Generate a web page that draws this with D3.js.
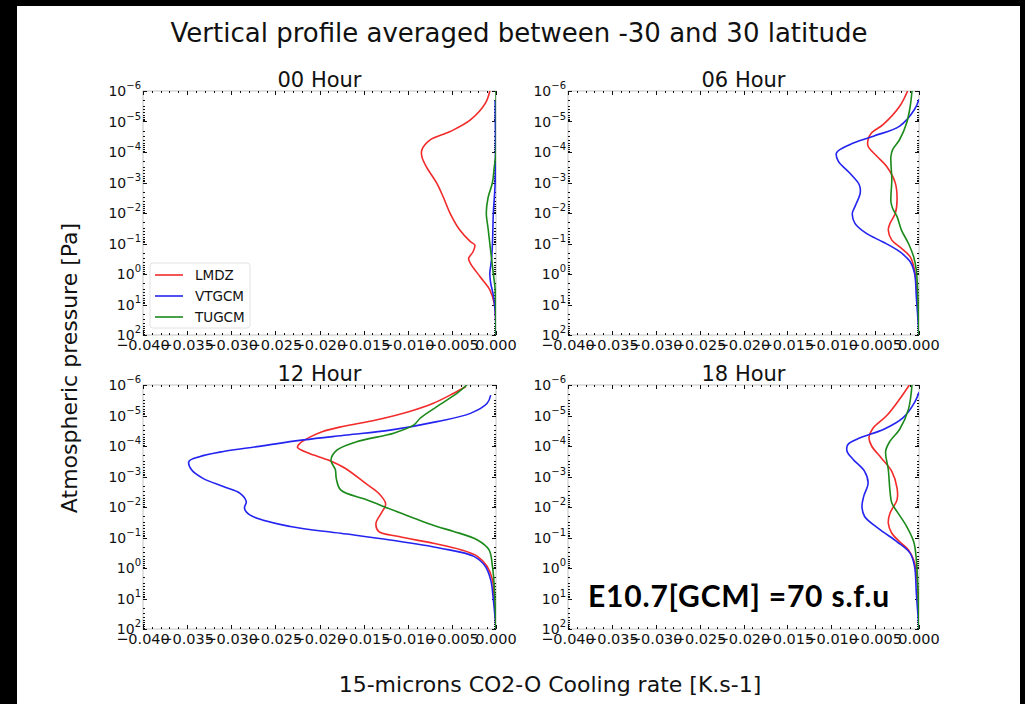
<!DOCTYPE html>
<html>
<head>
<meta charset="utf-8">
<script src="https://cdn.jsdelivr.net/npm/d3@7"></script>
<style>
  body { margin: 0; background: #000; }
  svg { display: block; }
  text { font-family: "DejaVu Sans", sans-serif; fill: #111; }
</style>
</head>
<body>
<svg id="chart" width="1025" height="704"></svg>
<script>
// ---- data ---------------------------------------------------------------
const panelTitles = ["00 Hour", "06 Hour", "12 Hour", "18 Hour"];
const models = ["LMDZ", "VTGCM", "TUGCM"];
const modelColors = ["#f22a2a", "#2424f0", "#1b8a1b"];

const xTickValues = [-0.040, -0.035, -0.030, -0.025, -0.020, -0.015, -0.010, -0.005, 0.000];
const xTickLabels = ["\u22120.040", "\u22120.035", "\u22120.030", "\u22120.025", "\u22120.020",
                     "\u22120.015", "\u22120.010", "\u22120.005", "0.000"];
const yTickExponents = [-6, -5, -4, -3, -2, -1, 0, 1, 2];
const yTickLabels = ["\u22126", "\u22125", "\u22124", "\u22123", "\u22122", "\u22121", "0", "1", "2"];

// Profiles: [log10 pressure (Pa), cooling rate (K/s)]
const h00_LMDZ = [[-6, -0.0007], [-5.6, -0.0012], [-5.05, -0.0029], [-4.67, -0.0052], [-4.39, -0.0075],
  [-4.07, -0.0084], [-3.85, -0.0084], [-3.52, -0.0079], [-2.97, -0.0067], [-2.54, -0.0060],
  [-1.99, -0.0052], [-1.44, -0.0041], [-1.06, -0.0029], [-0.95, -0.0024], [-0.73, -0.0026],
  [-0.51, -0.0031], [-0.35, -0.0029], [0.09, -0.0018], [0.52, -0.0007], [0.96, -0.0002], [2, 0]];
const h00_VTGCM = [[-5.7, -0.0001], [-3, -0.0001], [-2, -0.0003], [-1, -0.0004], [-0.5, -0.0005],
  [0, -0.0007], [0.3, -0.0006], [0.7, -0.0003], [1.2, -0.0001], [2, 0]];
const h00_TUGCM = [[-6, 0], [-4, 0], [-3.5, -0.0002], [-3, -0.0004], [-2.5, -0.0009], [-2, -0.0011],
  [-1.5, -0.0009], [-1, -0.0007], [-0.5, -0.0005], [0, -0.0003], [0.5, -0.0001], [2, 0]];

const h06_LMDZ = [[-6, -0.0013], [-5.5, -0.0022], [-4.9, -0.0041], [-4.63, -0.0054], [-4.41, -0.0058],
  [-4.19, -0.0058], [-3.86, -0.0048], [-3.53, -0.0037], [-2.98, -0.0027], [-2.43, -0.0025],
  [-1.99, -0.0027], [-1.66, -0.0033], [-1.44, -0.0035], [-1.11, -0.0031], [-0.89, -0.0022],
  [-0.56, -0.0010], [-0.12, -0.0005], [0.43, -0.0003], [1.2, -0.0001], [2, 0]];
const h06_VTGCM = [[-5.73, 0], [-5.4, -0.0005], [-4.85, -0.0022], [-4.52, -0.0052], [-4.24, -0.0079],
  [-3.97, -0.0094], [-3.7, -0.0092], [-3.31, -0.0079], [-2.92, -0.0068], [-2.65, -0.0067],
  [-2.21, -0.0073], [-1.99, -0.0076], [-1.66, -0.0073], [-1.33, -0.0060], [-1.05, -0.0041],
  [-0.73, -0.0022], [-0.4, -0.0010], [-0.01, -0.0005], [0.76, -0.0003], [2, 0]];
const h06_TUGCM = [[-6, -0.0008], [-5.5, -0.0010], [-4.96, -0.0014], [-4.41, -0.0022], [-4.08, -0.0030],
  [-3.86, -0.0032], [-3.09, -0.0031], [-2.37, -0.0032], [-2.15, -0.0030], [-1.88, -0.0025],
  [-1.44, -0.0020], [-1.0, -0.0012], [-0.56, -0.0006], [-0.12, -0.0003], [1, -0.0001], [2, 0]];

const h12_LMDZ = [[-5.95, -0.0034], [-5.73, -0.0048], [-5.4, -0.0071], [-5.13, -0.0098], [-4.85, -0.0136],
  [-4.64, -0.0174], [-4.47, -0.0197], [-4.29, -0.0211], [-4.09, -0.0222], [-3.96, -0.0225],
  [-3.76, -0.0212], [-3.54, -0.0190], [-3.27, -0.0171], [-2.78, -0.0148], [-2.45, -0.0133],
  [-2.1, -0.0125], [-1.8, -0.0130], [-1.47, -0.0136], [-1.2, -0.0133], [-1.03, -0.0110],
  [-0.81, -0.0071], [-0.6, -0.0040], [-0.38, -0.0021], [-0.05, -0.0010], [0.39, -0.0004],
  [1.04, -0.0002], [2, 0]];
const h12_VTGCM = [[-5.67, -0.0006], [-5.4, -0.0010], [-5.07, -0.0029], [-4.8, -0.0067], [-4.52, -0.0120],
  [-4.36, -0.0169], [-4.2, -0.0218], [-3.98, -0.0271], [-3.82, -0.0309], [-3.65, -0.0336],
  [-3.49, -0.0348], [-3.22, -0.0345], [-2.94, -0.0332], [-2.67, -0.0309], [-2.45, -0.0290],
  [-2.18, -0.0283], [-1.96, -0.0285], [-1.74, -0.0279], [-1.36, -0.0233], [-1.14, -0.0176],
  [-0.92, -0.0120], [-0.65, -0.0063], [-0.38, -0.0025], [-0.05, -0.0012], [0.39, -0.0006],
  [1.04, -0.0003], [2, 0]];
const h12_TUGCM = [[-6, -0.0033], [-5.73, -0.0044], [-5.29, -0.0067], [-4.91, -0.0086], [-4.69, -0.0093],
  [-4.42, -0.0116], [-4.14, -0.0158], [-3.87, -0.0180], [-3.54, -0.0187], [-3.22, -0.0182],
  [-2.94, -0.0181], [-2.56, -0.0176], [-2.23, -0.0146], [-1.8, -0.0108], [-1.36, -0.0067],
  [-1.2, -0.0048], [-0.92, -0.0021], [-0.6, -0.0008], [-0.05, -0.0004], [0.6, -0.0002], [2, 0]];

const h18_LMDZ = [[-6, -0.0011], [-5.54, -0.0022], [-4.99, -0.0037], [-4.6, -0.0052], [-4.27, -0.0057],
  [-4.0, -0.0054], [-3.61, -0.0043], [-3.17, -0.0031], [-2.62, -0.0025], [-2.24, -0.0025],
  [-1.8, -0.0033], [-1.47, -0.0035], [-1.14, -0.0031], [-0.86, -0.0022], [-0.59, -0.0012],
  [-0.26, -0.0006], [0.18, -0.0003], [1, -0.0001], [2, 0]];
const h18_VTGCM = [[-5.76, 0], [-5.43, -0.0005], [-4.93, -0.0018], [-4.55, -0.0040], [-4.27, -0.0067],
  [-4.05, -0.0081], [-3.83, -0.0082], [-3.56, -0.0075], [-3.17, -0.0062], [-2.79, -0.0058],
  [-2.35, -0.0063], [-2.02, -0.0065], [-1.69, -0.0062], [-1.25, -0.0044], [-0.86, -0.0025],
  [-0.48, -0.0010], [-0.04, -0.0005], [0.84, -0.0003], [2, 0]];
const h18_TUGCM = [[-6, -0.0008], [-5.21, -0.0012], [-4.55, -0.0022], [-4.16, -0.0033], [-3.83, -0.0038],
  [-3.23, -0.0035], [-2.51, -0.0033], [-2.13, -0.0031], [-1.85, -0.0025], [-1.36, -0.0014],
  [-0.86, -0.0006], [-0.26, -0.0003], [0.84, -0.0001], [2, 0]];

const panelSeries = [
  [h00_LMDZ, h00_VTGCM, h00_TUGCM],
  [h06_LMDZ, h06_VTGCM, h06_TUGCM],
  [h12_LMDZ, h12_VTGCM, h12_TUGCM],
  [h18_LMDZ, h18_VTGCM, h18_TUGCM]
];

// ---- layout -------------------------------------------------------------
const W = 1025, H = 704;
const cols = [[143, 496], [568, 919]];
const rows = [[91, 335], [385, 629]];

const svg = d3.select("#chart");

// dark frame with white page inside
svg.append("rect").attr("width", W).attr("height", H).attr("fill", "#000");
svg.append("rect").attr("x", 17).attr("y", 6).attr("width", 1003).attr("height", H - 6).attr("fill", "#fff");

svg.append("text")
  .attr("x", 519).attr("y", 42)
  .attr("text-anchor", "middle")
  .style("font-size", "26px")
  .text("Vertical profile averaged between -30 and 30 latitude");

svg.append("text")
  .attr("transform", "translate(77,368) rotate(-90)")
  .attr("text-anchor", "middle")
  .style("font-size", "22px")
  .text("Atmospheric pressure [Pa]");

svg.append("text")
  .attr("x", 550).attr("y", 692)
  .attr("text-anchor", "middle")
  .style("font-size", "22px")
  .text("15-microns CO2-O Cooling rate [K.s-1]");

const minorX = d3.range(-40, 1).map(i => i / 1000).filter(v => !xTickValues.some(t => Math.abs(t - v) < 1e-9));
const minorY = [];
for (let e = -6; e < 2; e++) for (let m = 2; m <= 9; m++) minorY.push(m * Math.pow(10, e));

const line = d3.line().curve(d3.curveCatmullRom.alpha(0.5));

panelSeries.forEach((series, i) => {
  const [x0, x1] = cols[i % 2];
  const [y0, y1] = rows[Math.floor(i / 2)];
  const x = d3.scaleLinear().domain([-0.04, 0]).range([x0, x1]);
  const y = d3.scaleLog().domain([1e-6, 1e2]).range([y0, y1]);
  const g = svg.append("g");

  // frame
  g.append("rect")
    .attr("x", x0).attr("y", y0).attr("width", x1 - x0).attr("height", y1 - y0)
    .attr("fill", "none").attr("stroke", "#c4c4c4").attr("stroke-width", 1);

  // inward ticks on all four sides
  const tk = g.append("g").attr("stroke", "#111").attr("stroke-width", 1);
  const hTicks = (vals, len) => {
    vals.forEach(v => {
      const px = Math.round(x(v)) + 0.5;
      tk.append("line").attr("x1", px).attr("x2", px).attr("y1", y0).attr("y2", y0 + len);
      tk.append("line").attr("x1", px).attr("x2", px).attr("y1", y1).attr("y2", y1 - len);
    });
  };
  const vTicks = (vals, len) => {
    vals.forEach(v => {
      const py = Math.round(y(v)) + 0.5;
      tk.append("line").attr("y1", py).attr("y2", py).attr("x1", x0).attr("x2", x0 + len);
      tk.append("line").attr("y1", py).attr("y2", py).attr("x1", x1).attr("x2", x1 - len);
    });
  };
  hTicks(minorX, 2);
  hTicks(xTickValues, 4);
  vTicks(minorY, 2);
  vTicks(yTickExponents.map(e => Math.pow(10, e)), 4);

  // x tick labels
  xTickValues.forEach((v, k) => {
    g.append("text")
      .attr("x", x(v)).attr("y", y1 + 15)
      .attr("text-anchor", "middle")
      .style("font-size", "14.5px")
      .text(xTickLabels[k]);
  });

  // y tick labels (powers of ten)
  yTickExponents.forEach((e, k) => {
    const t = g.append("text")
      .attr("x", x0 - 2).attr("y", y(Math.pow(10, e)) + 5)
      .attr("text-anchor", "end")
      .style("font-size", "14px");
    t.append("tspan").text("10");
    t.append("tspan").attr("dy", -7).style("font-size", "10px").text(yTickLabels[k]);
  });

  // panel title
  g.append("text")
    .attr("x", (x0 + x1) / 2).attr("y", y0 - 4)
    .attr("text-anchor", "middle")
    .style("font-size", "21px")
    .text(panelTitles[i]);

  // profiles
  const clipId = "clip" + i;
  g.append("clipPath").attr("id", clipId)
    .append("rect").attr("x", x0).attr("y", y0).attr("width", x1 - x0).attr("height", y1 - y0);
  const lines = g.append("g").attr("clip-path", `url(#${clipId})`);
  series.forEach((s, j) => {
    lines.append("path")
      .attr("d", line(s.map(d => [x(d[1]), y(Math.pow(10, d[0]))])))
      .attr("fill", "none")
      .attr("stroke", modelColors[j])
      .attr("stroke-width", 1.6);
  });

  // legend in the first panel
  if (i === 0) {
    const lg = g.append("g");
    lg.append("rect")
      .attr("x", x0 + 7).attr("y", 263).attr("width", 100).attr("height", 65)
      .attr("rx", 3).attr("fill", "#fff").attr("fill-opacity", 0.9)
      .attr("stroke", "#e2e2e2");
    models.forEach((m, j) => {
      const ly = 275 + j * 21;
      lg.append("line")
        .attr("x1", x0 + 12).attr("x2", x0 + 40).attr("y1", ly).attr("y2", ly)
        .attr("stroke", modelColors[j]).attr("stroke-width", 1.6);
      lg.append("text")
        .attr("x", x0 + 52).attr("y", ly + 5)
        .style("font-size", "13.5px")
        .text(m);
    });
  }

  // solar flux annotation in the last panel
  if (i === 3) {
    g.append("text")
      .attr("x", 588).attr("y", 607)
      .style("font-family", "Lato, 'Open Sans', sans-serif")
      .style("font-weight", "bold")
      .style("font-size", "30px")
      .style("letter-spacing", "0.8px")
      .style("fill", "#000")
      .text("E10.7[GCM] =70 s.f.u");
  }
});
</script>
</body>
</html>
